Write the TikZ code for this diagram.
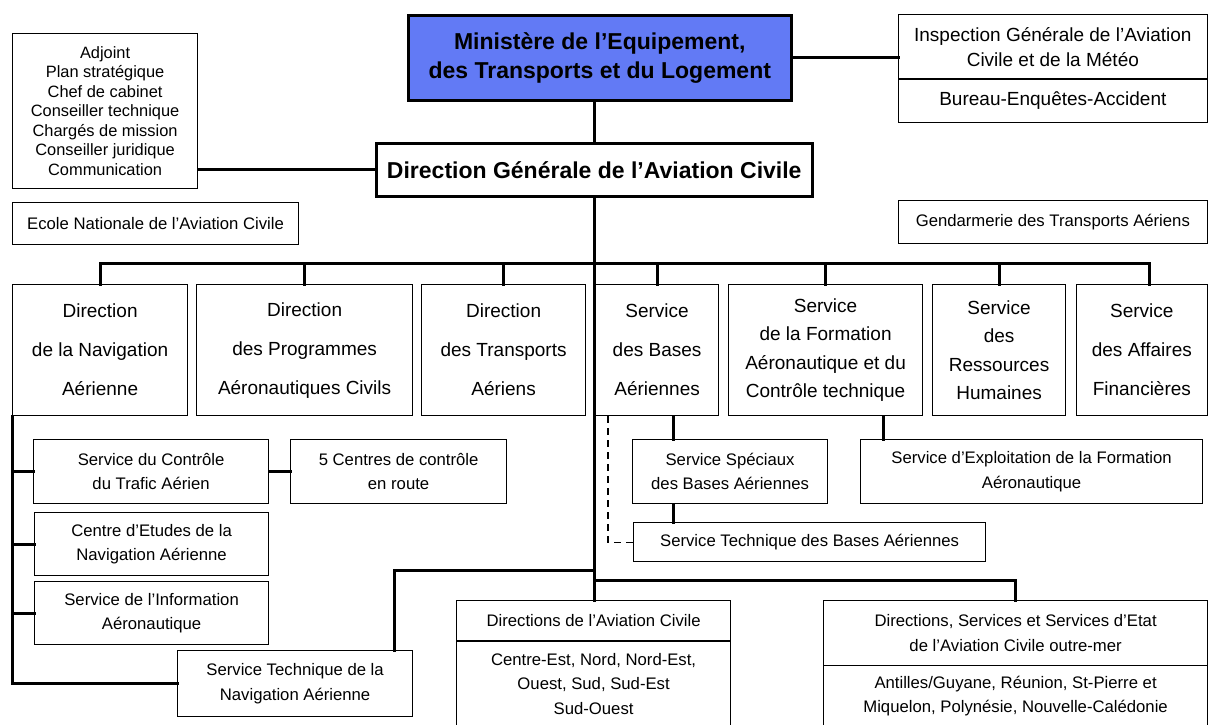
\documentclass[tikz,border=0pt]{standalone}
\usepackage{fontspec}
\setmainfont{Liberation Sans}
\definecolor{minblue}{RGB}{98,122,245}
\newcommand{\orglist}{\fontsize{16.4}{19.5}\selectfont}
\newcommand{\orgsmall}{\fontsize{16.7}{24.5}\selectfont}
\newcommand{\orgmed}{\fontsize{19}{25}\selectfont}
\newcommand{\orgmid}{\fontsize{19}{39}\selectfont}
\newcommand{\orgtall}{\fontsize{19}{28.5}\selectfont}
\newcommand{\orgbig}{\fontsize{23}{29}\selectfont\bfseries}
\tikzset{
  box/.style={draw, line width=1.2pt, inner sep=0pt, anchor=north west, align=center, font=\orgsmall},
  link/.style={line width=3pt, line cap=rect},
  dashlink/.style={line width=1.2pt, dash pattern=on 7pt off 5pt},
}
\begin{document}
\begin{tikzpicture}[x=1pt, y=-1pt]
\clip (0,0) rectangle (1208,724);
\fill[white] (0,0) rectangle (1208,724);

% Top level
\node[box, fill=minblue, line width=2.5pt, font=\orgbig, minimum width=383, minimum height=85] (min) at (407,14) {Ministère de l'Equipement,\\des Transports et du Logement};
\node[box, font=\orgmed, minimum width=308.5, minimum height=64] (insp) at (898,14) {Inspection Générale de l'Aviation\\Civile et de la Météo};
\node[box, font=\orgmed, minimum width=308.5, minimum height=44] (bea) at (898,78) {Bureau-Enquêtes-Accident};
\draw[line width=2pt] (insp.south west) -- (insp.south east);
\node[box, font=\orglist, minimum width=185, minimum height=155] (adj) at (12,33) {Adjoint\\Plan stratégique\\Chef de cabinet\\Conseiller technique\\Chargés de mission\\Conseiller juridique\\Communication};
\node[box, line width=2.5pt, font=\orgbig, minimum width=436, minimum height=53] (dgac) at (375,142) {Direction Générale de l'Aviation Civile};
\node[box, minimum width=286, minimum height=42] (enac) at (12,202) {Ecole Nationale de l'Aviation Civile};
\node[box, minimum width=308.5, minimum height=43] (gta) at (898,200) {Gendarmerie des Transports Aériens};

% Directions and services
\node[box, font=\orgmid, minimum width=175, minimum height=131] (dna) at (12,284) {Direction\\de la Navigation\\Aérienne};
\node[box, font=\orgmid, minimum width=216, minimum height=131] (dpac) at (196,284) {Direction\\des Programmes\\Aéronautiques Civils};
\node[box, font=\orgmid, minimum width=164, minimum height=131] (dta) at (421,284) {Direction\\des Transports\\Aériens};
\node[box, font=\orgmid, minimum width=123, minimum height=131] (sba) at (595,284) {Service\\des Bases\\Aériennes};
\node[box, font=\orgtall, minimum width=194, minimum height=131] (sfact) at (728,284) {Service\\de la Formation\\Aéronautique et du\\Contrôle technique};
\node[box, font=\orgtall, minimum width=133, minimum height=131] (srh) at (932,284) {Service\\des\\Ressources\\Humaines};
\node[box, font=\orgmid, minimum width=130.5, minimum height=131] (saf) at (1076,284) {Service\\des Affaires\\Financières};

% Lower services
\node[box, minimum width=235, minimum height=64] (scta) at (33,439) {Service du Contrôle\\du Trafic Aérien};
\node[box, minimum width=216, minimum height=64] (ctr) at (290,439) {5 Centres de contrôle\\en route};
\node[box, minimum width=234, minimum height=63] (cena) at (34,512) {Centre d'Etudes de la\\Navigation Aérienne};
\node[box, minimum width=234, minimum height=63] (sia) at (34,581) {Service de l'Information\\Aéronautique};
\node[box, minimum width=235, minimum height=66] (stna) at (177,650) {Service Technique de la\\Navigation Aérienne};
\node[box, minimum width=195, minimum height=64] (spec) at (632,439) {Service Spéciaux\\des Bases Aériennes};
\node[box, minimum width=342, minimum height=64] (sefa) at (860,439) {Service d'Exploitation de la Formation\\Aéronautique};
\node[box, minimum width=352, minimum height=39] (stba) at (633,522) {Service Technique des Bases Aériennes};
\node[box, minimum width=274, minimum height=40] (dac) at (456,600) {Directions de l'Aviation Civile};
\node[box, minimum width=274, minimum height=86] (dacr) at (456,640) {Centre-Est, Nord, Nord-Est,\\Ouest, Sud, Sud-Est\\Sud-Ouest};
\draw[line width=2pt] (dac.south west) -- (dac.south east);
\node[box, minimum width=384, minimum height=65] (om) at (823,600) {Directions, Services et Services d'Etat\\de l'Aviation Civile outre-mer};
\node[box, minimum width=384, minimum height=61] (omr) at (823,665) {Antilles/Guyane, Réunion, St-Pierre et\\Miquelon, Polynésie, Nouvelle-Calédonie};

% Links at the top
\draw[link] (min.east) -- (min.east -| insp.west);
\draw[link] (dgac.north) -- (dgac.north |- min.south);
\draw[link] (dgac.west) -- (dgac.west -| adj.east);
\draw[link] (dgac.south) -- (dgac.south |- dac.north);

% Bus to the directions
\coordinate (bus) at (0,263);
\draw[link] (dna.north |- bus) -- ([xshift=8pt]saf.north |- bus);
\foreach \b in {dna,dpac,dta,sba,sfact,srh}
  \draw[link] (\b.north) -- (\b.north |- bus);
\draw[link] ([xshift=8pt]saf.north) -- ([xshift=8pt]saf.north |- bus);

% Navigation aerienne
\draw[link] (dna.south west) |- (stna.west);
\foreach \b in {scta,cena,sia}
  \draw[link] (\b.west) -- (\b.west -| dna.south west);
\draw[link] (scta.east) -- (ctr.west);
\coordinate (stnabar) at (0,570);
\draw[link] ([xshift=-19pt]stna.north east) |- (dgac.south |- stnabar);

% Bases and formation
\draw[link] ([xshift=16pt]sba.south) -- ([xshift=16pt]sba.south |- spec.north);
\draw[link] ([xshift=16pt]sba.south |- spec.south) -- ([xshift=16pt]sba.south |- stba.north);
\draw[link] ([xshift=23pt]sefa.north west) -- ([xshift=23pt]sefa.north west |- sfact.south);
\draw[dashlink] ([xshift=13pt]sba.south west) |- (stba.west);

% Outre-mer
\coordinate (ombar) at (0,580);
\draw[link] (dgac.south |- ombar) -| (om.north);
\end{tikzpicture}
\end{document}
